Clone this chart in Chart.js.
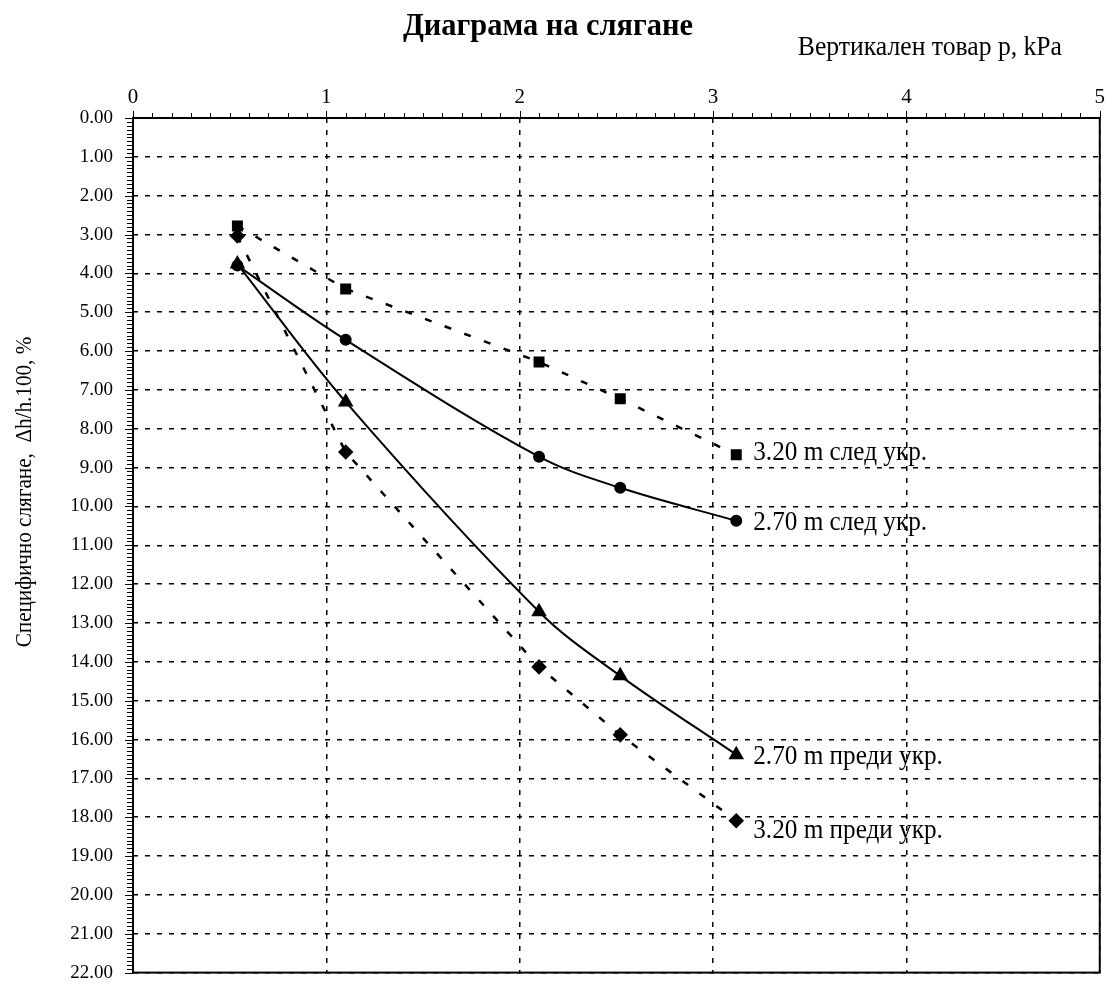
<!DOCTYPE html>
<html>
<head>
<meta charset="utf-8">
<script src="https://cdn.jsdelivr.net/npm/chart.js@4/dist/chart.umd.min.js"></script>
<style>
  body { margin: 0; background: #fff; }
  #wrap { width: 1113px; height: 987px; }
</style>
</head>
<body>
<div id="wrap"><canvas id="settleChart"></canvas></div>
<script>
// load steps, kPa (same for every curve)
const loads = [0.54, 1.10, 2.10, 2.52, 3.12];

// specific settlement, %
const after320 = [2.78, 4.40, 6.28, 7.23, 8.67];
const after270 = [3.80, 5.71, 8.72, 9.52, 10.37];
const before270 = [3.76, 7.31, 12.71, 14.36, 16.39];
const before320 = [3.04, 8.60, 14.13, 15.88, 18.09];

const seriesNames = ['3.20 m след укр.', '2.70 m след укр.', '2.70 m преди укр.', '3.20 m преди укр.'];

const chartTitle = 'Диаграма на слягане';
const xTitle = 'Вертикален товар p, kPa';
const yTitle = 'Специфично слягане,  Δh/h.100, %';

const serif = '"Liberation Serif", "DejaVu Serif", serif';

function pts(ys) {
    return loads.map((x, i) => ({ x: x, y: ys[i] }));
}

// condensed text, the original uses a narrow Times face
function narrowText(ctx, text, x, y, squeeze) {
    ctx.save();
    ctx.translate(x, y);
    ctx.scale(squeeze, 1);
    ctx.fillText(text, 0, 0);
    ctx.restore();
}

// labels next to last point, minor ticks, titles
const extras = {
    id: 'extras',
    afterDraw(chart) {
        const ctx = chart.ctx;
        const xs = chart.scales.x, ys = chart.scales.y;
        const area = chart.chartArea;
        ctx.save();

        // minor ticks
        ctx.strokeStyle = '#000';
        ctx.lineWidth = 1;
        ctx.beginPath();
        for (let i = 0; i <= 50; i++) {
            const px = Math.round(xs.getPixelForValue(i / 10)) + 0.5;
            ctx.moveTo(px, area.top);
            ctx.lineTo(px, area.top - (i % 10 === 0 ? 7 : 5));
        }
        for (let i = 0; i <= 220; i++) {
            const py = Math.round(ys.getPixelForValue(i / 10)) + 0.5;
            ctx.moveTo(area.left, py);
            ctx.lineTo(area.left - (i % 10 === 0 ? 8 : 6), py);
        }
        ctx.stroke();

        // borders
        ctx.lineWidth = 2;
        ctx.strokeRect(area.left, area.top, area.right - area.left, area.bottom - area.top);

        // end labels
        ctx.fillStyle = '#000';
        ctx.font = '28px ' + serif;
        ctx.textBaseline = 'middle';
        ctx.textAlign = 'left';
        const shift = [-2, 2, 2, 10];
        chart.data.datasets.forEach((ds, i) => {
            const meta = chart.getDatasetMeta(i);
            const last = meta.data[meta.data.length - 1];
            narrowText(ctx, seriesNames[i], last.x + 17, last.y + shift[i], 0.9);
        });

        // titles
        ctx.font = 'bold 32px ' + serif;
        ctx.textAlign = 'center';
        narrowText(ctx, chartTitle, 548, 27, 0.95);

        ctx.font = '27px ' + serif;
        ctx.textAlign = 'right';
        narrowText(ctx, xTitle, 1062, 48, 0.95);

        ctx.translate(25, 492);
        ctx.rotate(-Math.PI / 2);
        ctx.font = '23px ' + serif;
        ctx.textAlign = 'center';
        narrowText(ctx, yTitle, 0, 0, 0.92);
        ctx.restore();
    }
};

const ctx = document.getElementById('settleChart').getContext('2d');
new Chart(ctx, {
    type: 'line',
    data: {
        datasets: [
            {
                label: seriesNames[0],
                data: pts(after320),
                borderColor: '#000',
                backgroundColor: '#000',
                borderWidth: 2.5,
                borderDash: [7, 14],
                pointStyle: 'rect',
                pointRadius: 6,
                tension: 0
            },
            {
                label: seriesNames[1],
                data: pts(after270),
                borderColor: '#000',
                backgroundColor: '#000',
                borderWidth: 2,
                pointStyle: 'circle',
                pointRadius: 5,
                tension: 0.35
            },
            {
                label: seriesNames[2],
                data: pts(before270),
                borderColor: '#000',
                backgroundColor: '#000',
                borderWidth: 2,
                pointStyle: 'triangle',
                pointRadius: 7,
                tension: 0.35
            },
            {
                label: seriesNames[3],
                data: pts(before320),
                borderColor: '#000',
                backgroundColor: '#000',
                borderWidth: 2.5,
                borderDash: [7, 14],
                pointStyle: 'rectRot',
                pointRadius: 6,
                tension: 0
            }
        ]
    },
    options: {
        responsive: true,
        maintainAspectRatio: false,
        animation: false,
        layout: { padding: { top: 0, left: 0, right: 11, bottom: 0 } },
        plugins: {
            legend: { display: false },
            tooltip: { enabled: false }
        },
        scales: {
            x: {
                type: 'linear',
                position: 'top',
                min: 0,
                max: 5,
                ticks: {
                    stepSize: 1,
                    color: '#000',
                    font: { family: serif, size: 21 },
                    padding: 8
                },
                grid: {
                    color: '#000',
                    lineWidth: 1.5,
                    drawTicks: false
                },
                border: { display: false, dash: [5, 7] },
                afterFit(scale) { scale.height = 118; }
            },
            y: {
                type: 'linear',
                reverse: true,
                min: 0,
                max: 22,
                ticks: {
                    stepSize: 1,
                    color: '#000',
                    font: { family: serif, size: 19 },
                    padding: 3,
                    callback: v => v.toFixed(2)
                },
                grid: {
                    color: '#000',
                    lineWidth: 1.5,
                    drawTicks: true,
                    tickLength: 17,
                    tickColor: 'rgba(0,0,0,0)'
                },
                border: { display: false, dash: [5, 7] },
                afterFit(scale) { scale.width = 133; }
            }
        }
    },
    plugins: [extras]
});
</script>
</body>
</html>
